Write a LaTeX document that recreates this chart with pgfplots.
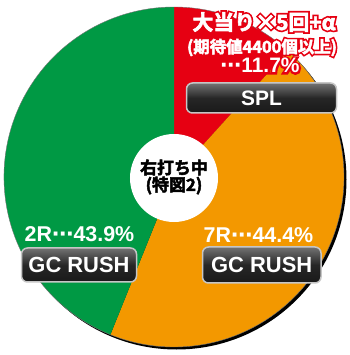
\documentclass[border=0pt]{standalone}
\usepackage{pgfplots}
\pgfplotsset{compat=1.18}
\usepackage{pgfplotstable}
\usepackage{fontspec}
\setmainfont{Liberation Sans}
\newfontfamily\jp{Noto Sans CJK JP Bold}
\newfontfamily\jpb{Noto Sans CJK JP Bold}[FakeBold=3]
\newfontfamily\jpoA{Noto Sans CJK JP Bold}[FakeBold=19]
\newfontfamily\jpoB{Noto Sans CJK JP Bold}[FakeBold=23]
\newfontfamily\lbo{Liberation Sans Bold}[FakeBold=19]
\newfontfamily\dv{DejaVu Sans Bold}
\newfontfamily\dvo{DejaVu Sans Bold}[FakeBold=19]
\definecolor{pred}{RGB}{230,0,18}
\definecolor{porange}{RGB}{243,152,0}
\definecolor{pgreen}{RGB}{0,153,68}
\pgfplotstableread{
label value
SPL 11.7
7R 44.4
2R 43.9
}\piedata
\begin{document}
\begin{tikzpicture}
\pgfplotstablegetelem{0}{value}\of\piedata\pgfmathsetmacro\va{\pgfplotsretval}
\pgfplotstablegetelem{1}{value}\of\piedata\pgfmathsetmacro\vb{\pgfplotsretval}
\pgfplotstablegetelem{2}{value}\of\piedata\pgfmathsetmacro\vc{\pgfplotsretval}
\pgfmathsetmacro\aA{90}
\pgfmathsetmacro\aB{\aA-3.6*\va}
\pgfmathsetmacro\aC{\aB-3.6*\vb}
\pgfmathsetmacro\aD{\aC-3.6*\vc}
\begin{axis}[
  x=1bp, y=1bp, xmin=0, xmax=350, ymin=0, ymax=355,
  axis lines=none, clip=false, scale only axis,
]
% shadow
\fill[black] (axis cs:176.5,175.5) circle[radius=170bp];
\fill[pred] (axis cs:174,178) -- ++(\aA:170bp) arc[start angle=\aA, end angle=\aB, radius=170bp] -- cycle;
\fill[porange] (axis cs:174,178) -- ++(\aB:170bp) arc[start angle=\aB, end angle=\aC, radius=170bp] -- cycle;
\fill[pgreen] (axis cs:174,178) -- ++(\aC:170bp) arc[start angle=\aC, end angle=\aD, radius=170bp] -- cycle;
\draw[black!55, line width=0.4bp] (axis cs:174,178) circle[radius=170bp];
\fill[white] (axis cs:174,177) circle[radius=44bp];
% center text
\node[inner sep=0, font=\jpb\fontsize{17}{17}\selectfont, align=center] at (axis cs:174,187.5) {右打ち中};
\node[inner sep=0, font=\jpb\fontsize{17}{17}\selectfont, align=center] at (axis cs:174,169.5) {(特図2)};
% red halos (underlay)
\node[inner sep=0, text=pred, font=\jpoA\fontsize{21}{21}\selectfont] at (axis cs:264,333) {大当り×5回+α};
\node[inner sep=0, text=pred, font=\jpoB\fontsize{16.5}{16.5}\selectfont] at (axis cs:262,307.5) {(期待値4400個以上)};
\node[inner sep=0, text=pred, font=\lbo\fontsize{21}{21}\selectfont] at (axis cs:260,289.5) {{\dvo ⋯}11.7\%};
% red sector labels
\node[inner sep=0, text=white, font=\jpb\fontsize{21}{21}\selectfont] at (axis cs:264,333) {大当り×5回+α};
\node[inner sep=0, text=white, font=\jpb\fontsize{16.5}{16.5}\selectfont] at (axis cs:262,307.5) {(期待値4400個以上)};
\node[inner sep=0, text=white, font=\bfseries\fontsize{21}{21}\selectfont] at (axis cs:260,289.5) {{\dv ⋯}11.7\%};
% boxes
\draw[gray!45, line width=1.5bp, rounded corners=6bp, top color=black!55, bottom color=black!90, middle color=black!85]
  (axis cs:186.5,242) rectangle (axis cs:336.5,272);
\node[inner sep=0, text=white, font=\bfseries\fontsize{21}{21}\selectfont] at (axis cs:261.5,257) {SPL};
\draw[gray!45, line width=1.5bp, rounded corners=6bp, top color=black!55, bottom color=black!90, middle color=black!85]
  (axis cs:21.5,73) rectangle (axis cs:136.5,107);
\node[inner sep=0, text=white, font=\bfseries\fontsize{22}{22}\selectfont] at (axis cs:79,90) {GC RUSH};
\draw[gray!45, line width=1.5bp, rounded corners=6bp, top color=black!55, bottom color=black!90, middle color=black!85]
  (axis cs:202.5,72) rectangle (axis cs:321,108);
\node[inner sep=0, text=white, font=\bfseries\fontsize{22}{22}\selectfont] at (axis cs:261.7,90) {GC RUSH};
\node[inner sep=0, text=white, font=\bfseries\fontsize{21.5}{21.5}\selectfont] at (axis cs:79.5,120.5) {2R{\dv ⋯}43.9\%};
\node[inner sep=0, text=white, font=\bfseries\fontsize{21.5}{21.5}\selectfont] at (axis cs:258.5,119.5) {7R{\dv ⋯}44.4\%};
\end{axis}
\pgfresetboundingbox
\path (0,0) rectangle (350bp,355bp);
\end{tikzpicture}
\end{document}
